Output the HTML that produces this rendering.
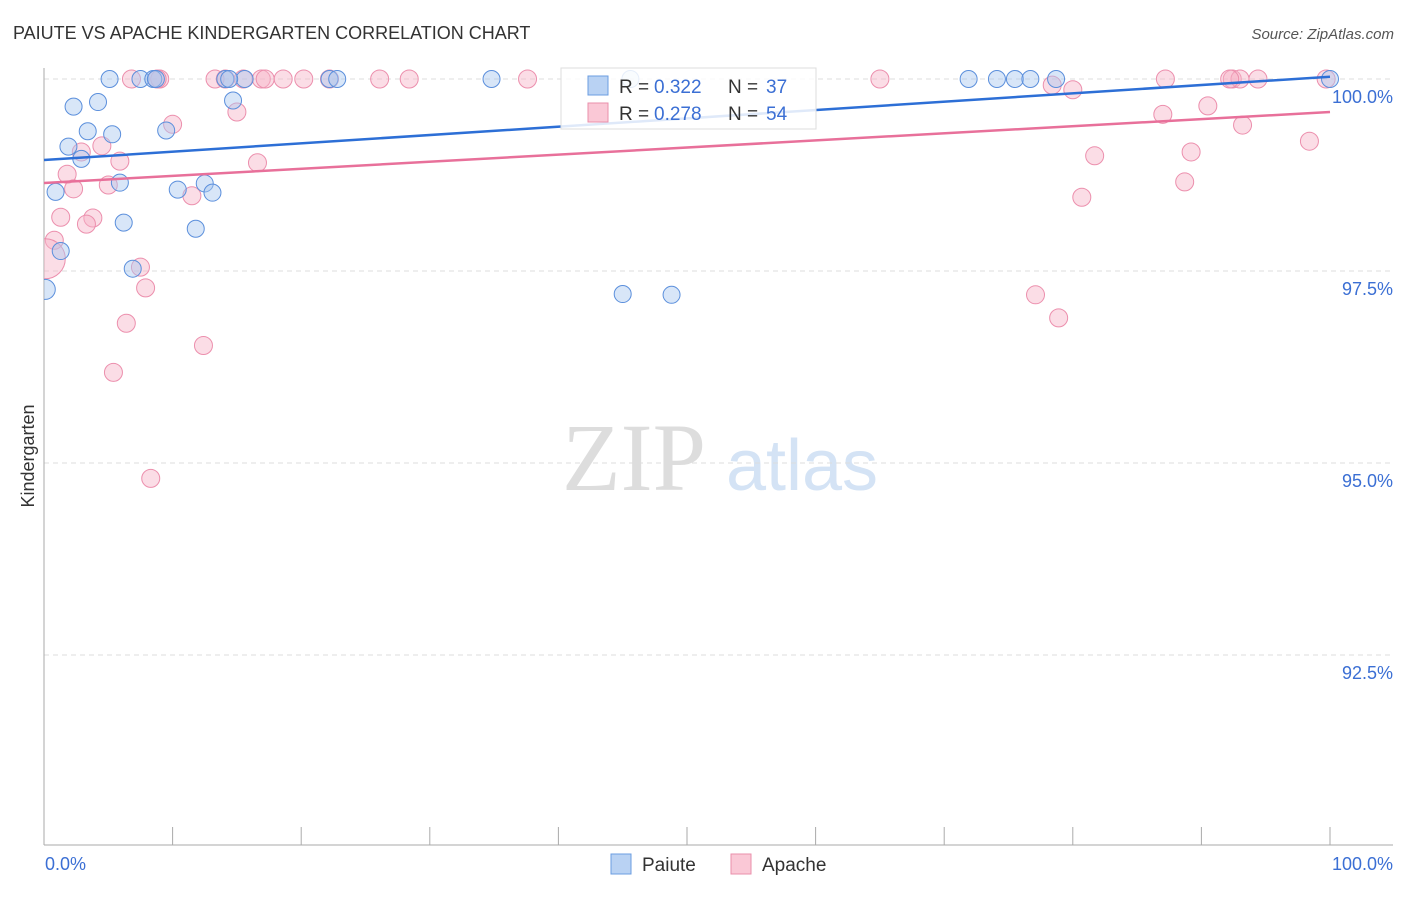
<!DOCTYPE html>
<html><head><meta charset="utf-8"><style>
body{margin:0;background:#fff;font-family:"Liberation Sans",sans-serif;}
svg text{font-family:"Liberation Sans",sans-serif;}
</style></head><body>
<svg id="c" width="1406" height="892">
<defs><clipPath id="pc"><rect x="44" y="40" width="1360" height="805"/></clipPath></defs>
<text x="13" y="39" font-size="18" fill="#333">PAIUTE VS APACHE KINDERGARTEN CORRELATION CHART</text>
<text x="1394" y="39" font-size="15" fill="#555" font-style="italic" text-anchor="end">Source: ZipAtlas.com</text>
<g><text x="634" y="490" font-size="96" fill="#ddd" style="font-family:'Liberation Serif',serif" text-anchor="middle">ZIP</text><text x="802" y="490" font-size="72" fill="#d4e3f5" text-anchor="middle">atlas</text></g>
<g id="grid"></g><g id="axes"></g><g id="pts" clip-path="url(#pc)"></g><g id="lines"></g>
<text transform="translate(34,456) rotate(-90)" font-size="18" fill="#333" text-anchor="middle">Kindergarten</text>
<text x="45" y="870" font-size="18" fill="#3b6fd4">0.0%</text>
<text x="1393" y="870" font-size="18" fill="#3b6fd4" text-anchor="end">100.0%</text>
<g>
<rect x="561" y="68" width="255" height="61" fill="#fff" fill-opacity="0.85" stroke="#ddd"/>
<rect x="588" y="76" width="20" height="19" fill="#b9d2f3" stroke="#6b9de0"/>
<text x="619" y="93" font-size="19" fill="#333">R =</text><text x="654" y="93" font-size="19" fill="#3b6fd4">0.322</text>
<text x="728" y="93" font-size="19" fill="#333">N =</text><text x="766" y="93" font-size="19" fill="#3b6fd4">37</text>
<rect x="588" y="103" width="20" height="19" fill="#fac8d6" stroke="#ea8fab"/>
<text x="619" y="120" font-size="19" fill="#333">R =</text><text x="654" y="120" font-size="19" fill="#3b6fd4">0.278</text>
<text x="728" y="120" font-size="19" fill="#333">N =</text><text x="766" y="120" font-size="19" fill="#3b6fd4">54</text>
</g>
<g><rect x="611" y="854" width="20" height="20" fill="#b9d2f3" stroke="#6b9de0"/><text x="642" y="871" font-size="19" fill="#333">Paiute</text></g>
<g><rect x="731" y="854" width="20" height="20" fill="#fac8d6" stroke="#ea8fab"/><text x="762" y="871" font-size="19" fill="#333">Apache</text></g>
</svg>
<script>
const yTicks=[100,97.5,95,92.5];
const yTickLabels=["100.0%","97.5%","95.0%","92.5%"];
const paiuteX=[5.1,7.5,8.5,8.7,14.1,15.6,22.2,22.8,34.8,45.6,71.9,74.1,75.5,76.7,78.7,100,2.3,4.2,14.7,1.9,3.4,5.3,9.5,2.9,5.9,0.9,10.4,12.5,13.1,6.2,11.8,1.3,6.9,0.1,45.0,48.8,14.4];
const paiuteY=[100,100,100,100,100,100,100,100,100,100,100,100,100,100,100,100,99.64,99.7,99.72,99.12,99.32,99.28,99.33,98.96,98.65,98.53,98.56,98.64,98.52,98.13,98.05,97.76,97.53,97.26,97.2,97.19,100];
const apacheX=[6.8,9.0,8.8,13.3,15.5,16.9,17.2,18.6,20.2,22.2,26.1,28.4,37.6,65.0,87.2,92.4,93.0,94.4,99.7,78.4,80.0,15.0,10.0,87.0,90.5,93.2,98.4,4.5,2.9,5.9,16.6,81.7,89.2,1.8,2.3,5.0,11.5,88.7,80.7,1.3,3.8,3.3,0.8,0.1,7.5,7.9,77.1,6.4,78.9,12.4,5.4,8.3,14.1,92.2];
const apacheY=[100,100,100,100,100,100,100,100,100,100,100,100,100,100,100,100,100,100,100,99.92,99.86,99.57,99.41,99.54,99.65,99.4,99.19,99.13,99.05,98.93,98.91,99.0,99.05,98.76,98.57,98.62,98.48,98.66,98.46,98.2,98.19,98.11,97.9,97.66,97.55,97.28,97.19,96.82,96.89,96.53,96.18,94.8,100,100];
const apacheR=[];for(let i=0;i<apacheX.length;i++)apacheR.push(i==43?20:9);
const trendPaiute=[98.945,100.03];
const trendApache=[98.646,99.57];
const X=v=>44+v*12.86, Y=v=>79+(100-v)*76.8;
const NS="http://www.w3.org/2000/svg";
function mk(p,t,a){const e=document.createElementNS(NS,t);for(const k in a)e.setAttribute(k,a[k]);document.getElementById(p).appendChild(e);return e;}
yTicks.forEach((t,i)=>{
 const l=mk('grid','line',{x1:44,x2:1393,y1:Y(t),y2:Y(t),stroke:'#ddd','stroke-dasharray':'5,4'});
 
 
 const tx=mk('grid','text',{x:1393,y:Y(t)+24,'font-size':18,fill:'#3b6fd4','text-anchor':'end'});tx.textContent=yTickLabels[i];
 
 
});
const ax=mk('axes','line',{x1:44,x2:44,y1:68,y2:845,stroke:'#aaa'});


const bx=mk('axes','line',{x1:44,x2:1393,y1:845,y2:845,stroke:'#aaa'});


for(let i=0;i<=10;i++){const t=mk('axes','line',{x1:X(i*10),x2:X(i*10),y1:827,y2:845,stroke:'#aaa'});
 
 }
apacheX.forEach((x,i)=>{const c=mk('pts','circle',{cx:X(x),cy:Y(apacheY[i]),r:apacheR[i],fill:'#f6b3c7','fill-opacity':0.45,stroke:'#ec8fad','stroke-width':1});
 
 });
paiuteX.forEach((x,i)=>{const c=mk('pts','circle',{cx:X(x),cy:Y(paiuteY[i]),r:i==33?10:8.5,fill:'#a9c8f0','fill-opacity':0.45,stroke:'#5b8fdc','stroke-width':1});
 
 });
const l1=mk('lines','line',{x1:X(0),y1:Y(trendPaiute[0]),x2:X(100),y2:Y(trendPaiute[1]),stroke:'#2d6fd6','stroke-width':2.5});


const l2=mk('lines','line',{x1:X(0),y1:Y(trendApache[0]),x2:X(100),y2:Y(trendApache[1]),stroke:'#e8709a','stroke-width':2.5});


</script>
</body></html>
